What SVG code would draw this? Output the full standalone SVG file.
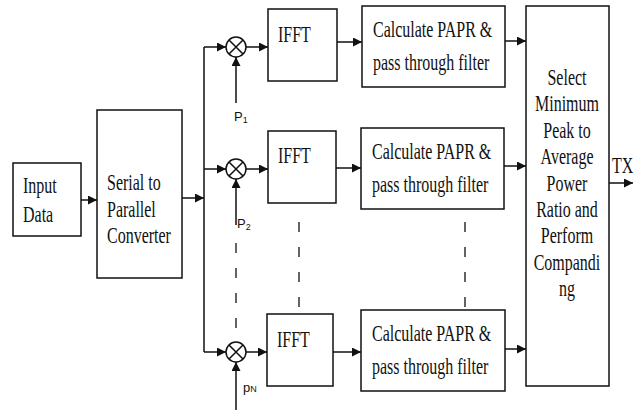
<svg xmlns="http://www.w3.org/2000/svg" width="638" height="412" viewBox="0 0 638 412">
<style>
.box{fill:#fff;stroke:#111;stroke-width:1.5}
.ln{fill:none;stroke:#111;stroke-width:1.5}
.dash{fill:none;stroke:#111;stroke-width:1.3;stroke-dasharray:10 15}
.t{font-family:"Liberation Serif","Times New Roman",serif;font-size:16px;fill:#111}
.m{text-anchor:middle}
.s{font-family:"Liberation Sans",Arial,sans-serif;font-size:13px;fill:#111}
.sub{font-size:9px}
</style>
<defs>
<marker id="ah" viewBox="0 0 10 10" refX="10" refY="5" markerWidth="9" markerHeight="9" markerUnits="userSpaceOnUse" orient="auto">
<path d="M0,0 L10,5 L0,10 z" fill="#111"/>
</marker>
</defs>
<g id="connectors">
<line class="ln" x1="81" y1="200" x2="97" y2="200" marker-end="url(#ah)"/>
<line class="ln" x1="182" y1="198" x2="204" y2="198" marker-end="url(#ah)"/>
<line class="ln" x1="204" y1="47" x2="204" y2="352"/>
<line class="ln" x1="204" y1="47" x2="226" y2="47" marker-end="url(#ah)"/>
<line class="ln" x1="204" y1="169" x2="226" y2="169" marker-end="url(#ah)"/>
<line class="ln" x1="204" y1="352" x2="226" y2="352" marker-end="url(#ah)"/>
<line class="ln" x1="246" y1="47" x2="268" y2="47" marker-end="url(#ah)"/>
<line class="ln" x1="246" y1="169" x2="268" y2="169" marker-end="url(#ah)"/>
<line class="ln" x1="246" y1="352" x2="267" y2="352" marker-end="url(#ah)"/>
<line class="ln" x1="236" y1="103" x2="236" y2="57" marker-end="url(#ah)"/>
<line class="ln" x1="236" y1="225" x2="236" y2="179" marker-end="url(#ah)"/>
<line class="ln" x1="236" y1="410" x2="236" y2="362" marker-end="url(#ah)"/>
<line class="dash" x1="236" y1="243" x2="236" y2="342"/>
<line class="dash" x1="299" y1="222" x2="299" y2="310"/>
<line class="dash" x1="465" y1="222" x2="465" y2="310"/>
<line class="ln" x1="337" y1="42" x2="362" y2="42" marker-end="url(#ah)"/>
<line class="ln" x1="336" y1="168" x2="361" y2="168" marker-end="url(#ah)"/>
<line class="ln" x1="333" y1="352" x2="361" y2="352" marker-end="url(#ah)"/>
<line class="ln" x1="505" y1="41" x2="526" y2="41" marker-end="url(#ah)"/>
<line class="ln" x1="504" y1="166" x2="526" y2="166" marker-end="url(#ah)"/>
<line class="ln" x1="505" y1="349" x2="526" y2="349" marker-end="url(#ah)"/>
<line class="ln" x1="609" y1="183" x2="633" y2="183" marker-end="url(#ah)"/>
</g>
<g id="input">
<rect class="box" x="13" y="163" width="68" height="73"/>
<text class="t" transform="translate(23,193) scale(1,1.45)">Input</text>
<text class="t" transform="translate(23,222) scale(1,1.45)">Data</text>
</g>
<g id="serial">
<rect class="box" x="97" y="110" width="85" height="168"/>
<text class="t" transform="translate(107,190) scale(1,1.45)">Serial to</text>
<text class="t" transform="translate(107,217) scale(1,1.45)">Parallel</text>
<text class="t" transform="translate(107,243) scale(1,1.45)">Converter</text>
</g>
<g id="mult1">
<circle class="ln" cx="236" cy="47" r="10"/>
<path class="ln" d="M229,40 L243,54 M243,40 L229,54" stroke-width="1"/>
</g>
<g id="mult2">
<circle class="ln" cx="236" cy="169" r="10"/>
<path class="ln" d="M229,162 L243,176 M243,162 L229,176" stroke-width="1"/>
</g>
<g id="mult3">
<circle class="ln" cx="236" cy="352" r="10"/>
<path class="ln" d="M229,345 L243,359 M243,345 L229,359" stroke-width="1"/>
</g>
<g id="p1"><text class="s" x="234" y="121">P<tspan class="sub" dy="2">1</tspan></text></g>
<g id="p2"><text class="s" x="237" y="228">P<tspan class="sub" dy="2">2</tspan></text></g>
<g id="pn"><text class="s" x="243" y="392">p<tspan class="sub" dy="0">N</tspan></text></g>
<g id="ifft1">
<rect class="box" x="268" y="9" width="69" height="72"/>
<text class="t" transform="translate(278,42) scale(1,1.45)">IFFT</text>
</g>
<g id="ifft2">
<rect class="box" x="268" y="131" width="68" height="72"/>
<text class="t" transform="translate(278,163) scale(1,1.45)">IFFT</text>
</g>
<g id="ifftN">
<rect class="box" x="267" y="314" width="66" height="72"/>
<text class="t" transform="translate(277,347) scale(1,1.45)">IFFT</text>
</g>
<g id="calc1">
<rect class="box" x="362" y="6" width="143" height="81"/>
<text class="t" transform="translate(373,37) scale(1,1.45)">Calculate PAPR &amp;</text>
<text class="t" transform="translate(373,70) scale(1,1.45)">pass through filter</text>
</g>
<g id="calc2">
<rect class="box" x="361" y="128" width="143" height="81"/>
<text class="t" transform="translate(372,159) scale(1,1.45)">Calculate PAPR &amp;</text>
<text class="t" transform="translate(372,192) scale(1,1.45)">pass through filter</text>
</g>
<g id="calcN">
<rect class="box" x="361" y="310" width="144" height="81"/>
<text class="t" transform="translate(372,341) scale(1,1.45)">Calculate PAPR &amp;</text>
<text class="t" transform="translate(372,374) scale(1,1.45)">pass through filter</text>
</g>
<g id="select">
<rect class="box" x="526" y="6" width="83" height="380"/>
<text class="t m" transform="translate(567,85) scale(1,1.45)">Select</text>
<text class="t m" transform="translate(567,111) scale(1,1.45)">Minimum</text>
<text class="t m" transform="translate(567,137.5) scale(1,1.45)">Peak to</text>
<text class="t m" transform="translate(567,164) scale(1,1.45)">Average</text>
<text class="t m" transform="translate(567,190.5) scale(1,1.45)">Power</text>
<text class="t m" transform="translate(567,217) scale(1,1.45)">Ratio and</text>
<text class="t m" transform="translate(567,243) scale(1,1.45)">Perform</text>
<text class="t m" transform="translate(567,270) scale(1,1.45)">Compandi</text>
<text class="t m" transform="translate(567,296) scale(1,1.45)">ng</text>
</g>
<g id="tx"><text class="t" transform="translate(612,173) scale(1,1.45)">TX</text></g>
</svg>
